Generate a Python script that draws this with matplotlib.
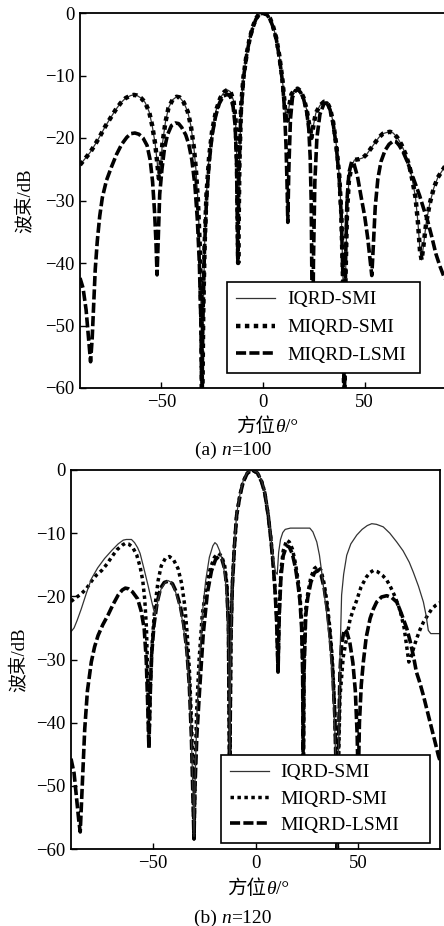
import matplotlib
matplotlib.use("Agg")
import matplotlib.pyplot as plt
from matplotlib.offsetbox import TextArea, HPacker, AnchoredOffsetbox

plt.rcParams['font.family'] = ['Liberation Serif', 'Noto Sans CJK SC']
plt.rcParams['axes.unicode_minus'] = True

# ---- (a) n=100 ----
smi_a_theta = [-90, -87.5, -85, -82.5, -80, -77.5, -75, -72.5, -70, -67.5, -65, -63.5, -62, -60, -58,
               -56, -54.5, -53, -52, -51.2, -50.3, -49.5, -48, -46.5, -44.5, -42.5, -41, -39, -37,
               -35.5, -34, -33, -32, -31, -30.3, -29.9, -29.4, -28.7, -27.8, -26.5, -25, -23, -21,
               -19, -17.5, -16, -14.5, -13.5, -12.8, -12.2, -11.6, -10.8, -9.6, -8, -6.5, -5, -3.5,
               -2, 0, 2, 3.5, 5, 6.5, 8, 9.5, 10.5, 11.3, 12, 12.8, 14, 15.5, 17, 18.5, 20, 21.5,
               22.8, 23.8, 24.8, 26, 28, 30, 31.5, 33, 34.5, 36, 37.5, 38.5, 39.3, 40, 40.6, 41.3,
               42.2, 43.5, 45, 47, 49, 51, 53, 55, 57, 59, 61, 62.5, 64, 66, 68, 70, 72, 73.5, 75,
               76.2, 77.2, 78, 79, 80.3, 82, 84, 86, 88, 90]
smi_a_db = [-24.3, -23.3, -22.3, -21, -19.6, -18.1, -16.8, -15.5, -14.4, -13.6, -13.2, -13.1, -13.2,
            -13.6, -14.3, -15.8, -18, -21, -24, -26.5, -24, -21, -17.5, -15.2, -13.9, -13.4, -13.5,
            -14.3, -15.8, -18, -21.5, -25, -30, -38, -50, -65, -48, -37, -29, -23, -18.8, -15.5,
            -13.6, -12.6, -12.3, -12.6, -14, -17, -24, -40, -24, -15, -10.2, -6.5, -4, -2.2, -0.9,
            -0.2, 0, -0.2, -0.9, -2.2, -4, -6.8, -10.5, -14, -17, -17.5, -15, -13, -12.3, -12.1,
            -12.5, -13.6, -15.5, -18, -20, -18, -16, -14.8, -14.2, -14.3, -15.3, -17.5, -21, -26,
            -32, -42, -65, -42, -32, -27, -24.5, -23.5, -23.4, -23.2, -22.6, -21.7, -20.8, -19.9,
            -19.3, -19.1, -19, -19.2, -19.9, -21, -22.5, -24.5, -26.8, -29.5, -33.5, -38, -39.5,
            -37, -33.5, -30.5, -28, -26.3, -25.3, -24.3]

lsmi_a_theta = [-90, -88.5, -87, -85.8, -84.8, -84, -83.2, -82.5, -81.5, -80.3, -79, -77, -74.5, -72,
                -69.5, -67, -65, -63, -61, -59, -57, -55.5, -54.3, -53.3, -52.6, -52.1, -51.5, -50.8,
                -49.7, -48.5, -47, -45, -43, -41.5, -40, -38, -36.5, -35, -33.5, -32.3, -31.3, -30.5,
                -30.1, -29.6, -28.8, -27.8, -26.5, -25, -23.3, -21.5, -19.5, -17.5, -16, -14.7,
                -13.7, -13, -12.4, -11.8, -11, -9.6, -8, -6.5, -5, -3.5, -2, 0, 2, 3.5, 5, 6.5, 8,
                9.5, 10.5, 11.3, 11.8, 12.2, 12.7, 13.5, 14.5, 16, 17.2, 18.5, 20, 21.5, 22.5, 23.2,
                23.7, 24.1, 24.4, 24.8, 25.5, 26.5, 28, 30, 31.5, 33, 34.5, 36, 37.5, 38.5, 39.3, 40,
                40.6, 41.3, 42.3, 43.6, 44.8, 46.5, 48.3, 50, 51.5, 52.8, 53.5, 54.3, 55.2, 56.5, 58,
                60, 62, 64, 65.5, 67, 69, 71, 73, 75, 77, 79, 81, 83, 85, 87, 89, 90]
lsmi_a_db = [-42.4, -44, -47.5, -52, -55.8, -52, -46, -41, -36.5, -32.5, -29.5, -26.8, -24.6, -22.6,
             -21, -19.9, -19.3, -19.2, -19.4, -20, -21.2, -23.5, -27, -32, -37, -41.9, -36, -29,
             -25, -21.8, -19.5, -18, -17.6, -17.7, -18.3, -19.5, -21, -23.5, -27.5, -33, -40, -50,
             -65, -50, -38, -30, -24, -19.5, -16.5, -14.5, -13.3, -13, -13.4, -15, -18, -24, -40,
             -26, -17, -10.4, -6.6, -4.1, -2.3, -1, -0.3, 0, -0.3, -1, -2.3, -4.1, -7, -10.8, -15,
             -21, -27, -33.5, -25, -17, -13.5, -12.4, -12.3, -12.7, -13.8, -15.8, -18.5, -23, -30,
             -45, -56, -40, -27, -20, -16.2, -14.5, -14.4, -15.5, -17.7, -21.2, -26.5, -32.5, -42,
             -65, -40, -30, -25.5, -23.8, -24.2, -26.2, -29.5, -32.5, -36, -40, -42, -37, -31,
             -26.5, -23.8, -22, -21, -20.5, -20.6, -21.2, -22.3, -23.8, -25.6, -27.4, -29.2, -31.3,
             -33.3, -35.8, -38.5, -40.5, -42.2, -42.8]

# in (a) the IQRD-SMI curve lies under the MIQRD-SMI one
iqrd_a_theta = smi_a_theta
iqrd_a_db = smi_a_db

# ---- (b) n=120 ----
iqrd_b_theta = [-90, -88.5, -87, -85, -82.5, -80, -77, -73.6, -70, -67, -64.5, -63, -60.5, -59, -57.5,
                -56.3, -54.5, -52.4, -50.5, -49, -47.5, -46, -44, -42.7, -41, -39, -37, -35.3, -33.7,
                -32.4, -31.3, -30.4, -30, -29.4, -28.5, -27.3, -26, -24.3, -22.5, -20.8, -19.8,
                -18.8, -17.5, -16, -14.8, -13.8, -13, -12.6, -12, -11.3, -10.3, -9.2, -7.5, -6, -4,
                -1.5, 1, 3, 4.5, 6.2, 7.5, 8.7, 9.8, 10.6, 11.3, 12.2, 13.3, 14.5, 17, 20, 23, 26.5,
                28, 29.9, 31.2, 32.3, 33.5, 35, 36.5, 37.7, 38.8, 39.5, 39.9, 40.5, 41.2, 42, 43,
                44.5, 46.5, 49.4, 52, 54.5, 56.7, 59, 62.3, 65.5, 68.9, 72, 75, 77, 79.5, 81.9, 83.2,
                84.3, 85.5, 88, 90]
iqrd_b_db = [-25.6, -25, -23.8, -22, -19.5, -17.2, -15.5, -14, -12.7, -11.7, -11.1, -11, -11, -11.5,
             -12.3, -13.2, -15.5, -18.3, -21, -23, -20.5, -18.8, -17.8, -17.5, -17.8, -19.3, -21.5,
             -24.5, -28.5, -34, -42, -52, -58, -48, -38, -30, -23, -17.5, -13.8, -12, -11.5, -11.8,
             -12.8, -14.5, -17, -21, -30, -48, -27, -18, -11.8, -7, -3.7, -1.7, -0.4, 0, -0.4, -1.7,
             -3.4, -6.9, -10.5, -14.2, -16.2, -16.5, -13, -11, -9.9, -9.4, -9.2, -9.2, -9.2, -9.2,
             -9.8, -11.4, -13.5, -16.2, -19.5, -23.5, -28.5, -34, -42, -52, -60, -45, -30, -19.8,
             -16.5, -13.5, -11.7, -10.3, -9.4, -8.8, -8.5, -8.6, -9, -10, -11.4, -12.8, -14.6,
             -16.2, -18.4, -20.9, -23, -25.4, -25.9, -25.9, -25.9]

smi_b_theta = [-90, -87.5, -85, -82.5, -80, -77.5, -75, -72.5, -70, -67.5, -65, -63.5, -62, -60, -58,
               -56.3, -55, -54, -53.2, -52.6, -52, -51.3, -50.5, -49.2, -47.5, -46, -44, -42, -40,
               -37.8, -36, -34.5, -33.3, -32.2, -31.2, -30.4, -30, -29.5, -28.7, -27.5, -26, -24,
               -22, -20, -18.1, -16.5, -15, -14, -13.2, -12.6, -12, -11.3, -10.3, -9.2, -7.5, -6,
               -4, -1.5, 1, 3, 4.5, 6.2, 7.5, 8.7, 9.6, 10.3, 11, 11.6, 12.4, 13.5, 15.2, 16.5, 18,
               19.5, 20.8, 21.7, 22.5, 23, 23.3, 23.7, 24.5, 25.5, 27, 28.7, 30.3, 32, 33.5, 35,
               36.3, 37.5, 38.7, 39.5, 39.9, 40.4, 41.2, 42.8, 44.5, 46.1, 47.8, 49.4, 51.5, 54.2,
               56, 57.5, 59.5, 62, 64, 66, 68, 70.5, 72.5, 74, 74.8, 76, 77.3, 78.6, 80.2, 81.9, 84,
               86, 88, 90]
smi_b_db = [-20.8, -20.2, -19.6, -18.8, -17.6, -16.6, -15.9, -14.9, -13.7, -12.6, -11.9, -11.6,
            -11.7, -12.2, -13.4, -15.3, -17.5, -20.6, -25, -32, -44, -34, -27.8, -22, -17.5, -15.2,
            -14, -13.7, -14.2, -15.6, -18, -21.5, -26, -32, -40, -50, -58.4, -48, -38, -30, -23,
            -18.5, -15.5, -13.8, -13.2, -13.6, -15.2, -18, -24, -50, -26, -18, -12, -7.1, -3.8,
            -1.8, -0.5, 0, -0.5, -1.8, -3.5, -7.1, -10.8, -15, -19, -23, -32, -22, -16, -12.8,
            -11.1, -11.4, -12.5, -14.8, -17.5, -19.8, -24, -30, -50, -30, -22, -19.5, -17, -15.6,
            -15.2, -15.9, -18, -21.2, -25.1, -30, -38, -48, -62, -48, -36, -29.6, -26.5, -23.7,
            -22, -20.6, -18.5, -16.9, -16.2, -15.9, -16.1, -16.7, -17.4, -18.6, -20, -22.2, -25,
            -28.5, -30.4, -29.5, -28, -26.7, -25.3, -24.1, -23, -22, -21.4, -21]

lsmi_b_theta = [-90, -88.5, -87.3, -86.2, -85.5, -84.8, -84, -83.3, -82, -80.1, -78.5, -76.8, -74.5,
                -72, -69.5, -67, -65, -63.5, -62, -60, -57.5, -55.8, -54.3, -53.3, -52.6, -52, -51.4,
                -50.6, -49.5, -48, -46.3, -44.5, -42.5, -40.5, -38.5, -36.5, -35, -33.5, -32.3,
                -31.3, -30.5, -30, -29.5, -28.6, -27.3, -25.5, -23.5, -21.5, -19.5, -18, -16.5, -15,
                -14, -13.2, -12.6, -12, -11.3, -10.3, -9.2, -7.5, -6, -4, -1.5, 1, 3, 4.5, 6.2, 7.5,
                8.7, 9.6, 10.3, 11, 11.6, 12.4, 13.5, 15.2, 16.5, 18, 19.5, 20.8, 21.7, 22.5, 23,
                23.3, 23.7, 24.5, 25.5, 27, 28.7, 30.3, 32, 33.5, 35, 36.3, 37.5, 38.7, 39.5, 39.9,
                40.4, 41.2, 42, 43.3, 44.5, 46, 47.5, 48.7, 49.6, 50.1, 50.7, 51.6, 52.6, 54, 55.9,
                57.5, 59.1, 61.5, 64, 66.5, 68.9, 71, 73.8, 75.5, 77, 78.5, 80, 81.9, 84, 86, 88,
                89.2, 90]
lsmi_b_db = [-45.7, -48, -52, -55.5, -57.3, -52, -46, -41, -35, -30.4, -28, -26.2, -24.5, -23, -21.3,
             -19.8, -19, -18.7, -18.8, -19.3, -20.4, -22.3, -25.1, -30, -37, -44, -36, -29, -24.5,
             -21, -18.7, -17.8, -17.6, -18, -19.4, -21.8, -24.5, -28.5, -34, -42, -52, -58.4, -50,
             -42, -35, -26, -19.5, -16, -14.2, -13.7, -14, -15.7, -18.5, -25, -50, -27, -18.5,
             -12.2, -7.2, -3.9, -1.9, -0.5, 0, -0.5, -1.9, -3.6, -7.2, -11, -15.3, -19.5, -24, -32,
             -23, -17, -13.6, -12, -12.2, -13.3, -15.5, -18.3, -20.8, -25, -32, -50, -32, -23,
             -20.2, -17.8, -16.3, -15.9, -16.6, -18.7, -22, -26, -31, -39, -50, -62, -45, -32,
             -27.5, -25.3, -25.6, -27.3, -30.5, -35, -42, -50, -40, -34, -30.4, -26.5, -23.5, -22,
             -20.9, -20.1, -19.9, -20.2, -20.9, -22.6, -25.1, -27.2, -29.4, -32, -33.5, -35.7,
             -38.4, -41, -43.6, -45.2, -46]

labels = ['IQRD-SMI', 'MIQRD-SMI', 'MIQRD-LSMI']
yticks = [0, -10, -20, -30, -40, -50, -60]
xticks = [-50, 0, 50]

serif = 'Liberation Serif'
cjk = 'Noto Sans CJK SC'


def mixed_text(fig, parts, xy, size=14):
    areas = []
    for s, fam, style in parts:
        areas.append(TextArea(s, textprops=dict(fontsize=size, family=fam, fontstyle=style)))
    box = HPacker(children=areas, align='baseline', pad=0, sep=0)
    anc = AnchoredOffsetbox(loc='center', child=box, pad=0, borderpad=0, frameon=False,
                            bbox_to_anchor=xy, bbox_transform=fig.transFigure)
    fig.add_artist(anc)


def setup(ax):
    ax.set_xlim(-90, 90)
    ax.set_ylim(-60, 0)
    ax.set_xticks(xticks)
    ax.set_yticks(yticks)
    ax.tick_params(direction='in', length=4.5, width=1.0, labelsize=13.5, pad=4)
    for sp in ax.spines.values():
        sp.set_linewidth(1.3)
    ax.set_ylabel('波束/dB', fontsize=13.5, family=[serif, cjk])


def add_legend(ax, order, box, spacing, textpad):
    h, l = ax.get_legend_handles_labels()
    leg = ax.legend([h[i] for i in order], [l[i] for i in order], loc='lower left',
                    bbox_to_anchor=box, mode='expand', borderaxespad=0, fontsize=14,
                    handlelength=2.0, handletextpad=textpad, labelspacing=spacing,
                    borderpad=0.45, fancybox=False, framealpha=1, edgecolor='black')
    leg.get_frame().set_linewidth(1.2)


fig = plt.figure(figsize=(4.44, 9.26), dpi=100)

# top panel
ax1 = fig.add_axes([80 / 444, 1 - 388 / 926, 366 / 444, 375 / 926])
ax1.plot(iqrd_a_theta, iqrd_a_db, color='#333333', lw=0.9, label=labels[0])
ax1.plot(lsmi_a_theta, lsmi_a_db, color='black', lw=2.6, linestyle=(0, (2.8, 0.9)), label=labels[2])
ax1.plot(smi_a_theta, smi_a_db, color='black', lw=3.2, linestyle=(0, (1, 1)), label=labels[1])
setup(ax1)
ax1.yaxis.set_label_coords(-0.128, 0.5)
add_legend(ax1, [0, 2, 1], (0.4016, 0.04, 0.527, 0.243), 0.53, 0.67)

# bottom panel
ax2 = fig.add_axes([71 / 444, 1 - 849 / 926, 369 / 444, 379 / 926])
ax2.plot(lsmi_b_theta, lsmi_b_db, color='black', lw=2.6, linestyle=(0, (2.8, 0.9)), label=labels[2])
ax2.plot(smi_b_theta, smi_b_db, color='black', lw=2.5, linestyle=(0, (1, 1)), label=labels[1])
ax2.plot(iqrd_b_theta, iqrd_b_db, color='#333333', lw=0.9, label=labels[0])
setup(ax2)
ax2.yaxis.set_label_coords(-0.117, 0.5)
add_legend(ax2, [2, 1, 0], (0.4065, 0.016, 0.566, 0.23), 0.45, 0.6)

# axis titles and captions
mixed_text(fig, [('方位', cjk, 'normal'), ('θ', serif, 'italic'), ('/°', serif, 'normal')],
           (267 / 444, 1 - 427 / 926))
mixed_text(fig, [('(a) ', serif, 'normal'), ('n', serif, 'italic'), ('=100', serif, 'normal')],
           (233 / 444, 1 - 450 / 926))
mixed_text(fig, [('方位', cjk, 'normal'), ('θ', serif, 'italic'), ('/°', serif, 'normal')],
           (258 / 444, 1 - 888 / 926))
mixed_text(fig, [('(b) ', serif, 'normal'), ('n', serif, 'italic'), ('=120', serif, 'normal')],
           (233 / 444, 1 - 918 / 926))

fig.savefig('out.png', dpi=100)
